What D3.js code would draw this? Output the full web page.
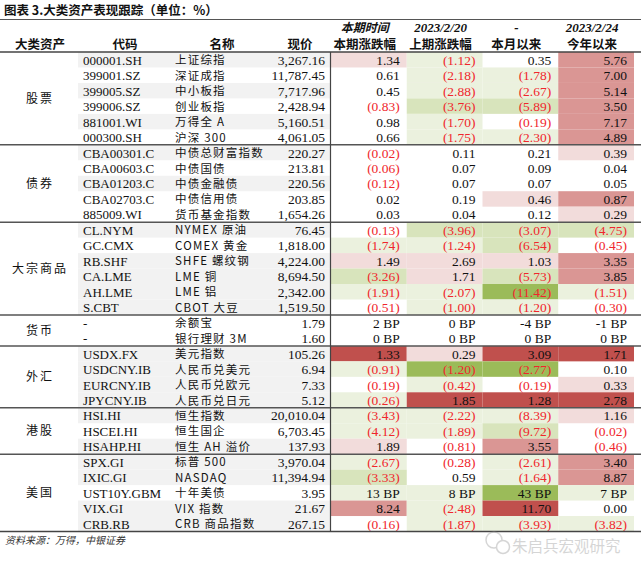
<!DOCTYPE html>
<html><head><meta charset="utf-8">
<script src="https://cdn.jsdelivr.net/npm/d3@7"></script>
<style>body{margin:0;background:#fff}svg{display:block}</style>
</head><body>
<svg id="c" width="641" height="561"></svg>
<script>
const groups = ["股票","债券","大宗商品","货币","外汇","港股","美国"];
const groupSizes = [6,5,6,2,4,3,5];
const codes = ["000001.SH","399001.SZ","399005.SZ","399006.SZ","881001.WI","000300.SH","CBA00301.C","CBA00603.C","CBA01203.C","CBA02703.C","885009.WI","CL.NYM","GC.CMX","RB.SHF","CA.LME","AH.LME","S.CBT","-","-","USDX.FX","USDCNY.IB","EURCNY.IB","JPYCNY.IB","HSI.HI","HSCEI.HI","HSAHP.HI","SPX.GI","IXIC.GI","UST10Y.GBM","VIX.GI","CRB.RB"];
const names = ["上证综指","深证成指","中小板指","创业板指","万得全 A","沪深 300","中债总财富指数","中债国债","中债金融债","中债信用债","货币基金指数","NYMEX 原油","COMEX 黄金","SHFE 螺纹钢","LME 铜","LME 铝","CBOT 大豆","余额宝","银行理财 3M","美元指数","人民币兑美元","人民币兑欧元","人民币兑日元","恒生指数","恒生国企","恒生 AH 溢价","标普 500","NASDAQ","十年美债","VIX 指数","CRB 商品指数"];
const prices = [3267.16,11787.45,7717.96,2428.94,5160.51,4061.05,220.27,213.81,220.56,203.85,1654.26,76.45,1818.00,4224.00,8694.50,2342.00,1519.50,1.79,1.60,105.26,6.94,7.33,5.12,20010.04,6703.45,137.93,3970.04,11394.94,3.95,21.67,267.15];
const bpRows = ["余额宝","银行理财 3M","十年美债"];
const colKeys = ["本期涨跌幅","上期涨跌幅","本月以来","今年以来"];
const colTop = ["本期时间","2023/2/20","-","2023/2/24"];
const chgWeek  = [1.34,0.61,0.45,-0.83,0.98,0.66,-0.02,-0.06,-0.12,0.02,0.03,-0.13,-1.74,1.49,-3.26,-1.91,-0.51,2,0,1.33,-0.91,-0.19,-0.26,-3.43,-4.12,1.89,-2.67,-3.33,13,8.24,-0.16];
const chgPrev  = [-1.12,-2.18,-2.88,-3.76,-1.70,-1.75,0.11,0.07,0.07,0.19,0.04,-3.96,-1.24,2.69,1.71,-2.07,-1.00,0,0,0.29,-1.20,-0.42,1.85,-2.22,-1.89,-0.81,-0.28,0.59,8,-2.48,-1.87];
const chgMonth = [0.35,-1.78,-2.67,-5.89,-0.19,-2.30,0.21,0.09,0.07,0.46,0.12,-3.07,-6.54,1.03,-5.73,-11.42,-1.20,-4,0,3.09,-2.77,-0.19,1.28,-8.39,-9.72,3.55,-2.61,-1.64,43,11.70,-3.93];
const chgYear  = [5.76,7.00,5.14,3.50,7.17,4.89,0.39,0.04,0.05,0.87,0.29,-4.75,-0.45,3.35,3.85,-1.51,-0.30,-1,0,1.71,0.10,0.33,2.78,1.16,-0.02,-0.46,3.40,8.87,7,0.00,-3.82];
// heat levels: 3 dark red .. -3 dark green, 0 none
const lvWeek  = [1,0,0,0,0,0, 0,0,0,0,0, 0,-1,1,-2,-1,0, 0,0, 3,-1,0,-1, -1,-1,1, -1,-2,-1,2,0];
const lvPrev  = [-1,-1,-1,-2,-1,-1, 0,0,0,0,0, -2,-1,1,1,-1,-1, 0,0, 1,-3,-1,3, -1,-1,0, 0,0,-1,-1,-1];
const lvMonth = [0,-1,-1,-2,0,-1, 0,0,0,1,0, -2,-2,1,-2,-3,-1, 0,0, 3,-3,0,3, -1,-2,2, -1,-1,-3,3,-1];
const lvYear  = [2,2,2,2,2,2, 1,0,0,2,1, -2,0,2,2,-1,0, 0,0, 3,0,1,3, 1,0,0, 2,2,-1,0,-1];
const codeShade = [1,0,1,0,1,0, 1,0,1,0,0, 1,0,1,1,1,1, 0,0, 1,1,1,1, 1,0,1, 1,1,0,1,1];

const svg = d3.select("#c");
const serif = "'Liberation Serif','Times New Roman',serif";
const cjk = "'Noto Sans CJK SC','Noto Sans',sans-serif";
const n = codes.length;
const y = d3.scaleBand().domain(d3.range(n)).range([52, 531.5]);
const x = d3.scaleBand().domain(colKeys).range([331, 634]);
const heat = d3.scaleOrdinal().domain([3,2,1,-1,-2,-3])
  .range(["#c0504d","#da9694","#f2dcdb","#ebf1de","#d8e4bc","#9bbb59"]);
const cols = [chgWeek, chgPrev, chgMonth, chgYear];
const lvs = [lvWeek, lvPrev, lvMonth, lvYear];
const fmt2 = d3.format(",.2f");
const fmtv = (v, bp) => bp ? (v + " BP") : (v < 0 ? "(" + d3.format(".2f")(-v) + ")" : d3.format(".2f")(v));

// title
svg.append("text").attr("x",4).attr("y",15).attr("font-family",cjk).attr("font-weight",700)
  .attr("font-size",12.5).attr("fill","#111").text("图表 3.大类资产表现跟踪（单位：%）");
svg.append("line").attr("x1",0).attr("x2",641).attr("y1",19.5).attr("y2",19.5).attr("stroke","#555").attr("stroke-width",1.2);

// code area shading
svg.append("g").selectAll("rect").data(d3.range(n).filter(i=>codeShade[i])).join("rect")
  .attr("x",78).attr("width",252).attr("y",i=>y(i)).attr("height",y.bandwidth()).attr("fill","#f2f2f2");

// heat cells
cols.forEach((arr, c) => {
  svg.append("g").selectAll("rect").data(d3.range(n).filter(i=>lvs[c][i]!==0)).join("rect")
    .attr("x", x(colKeys[c])).attr("width", x.bandwidth()).attr("y", i=>y(i)).attr("height", y.bandwidth())
    .attr("fill", i=>heat(lvs[c][i]));
});

// headers
const hdr = svg.append("g").attr("font-family",cjk).attr("font-weight",700).attr("font-size",12.5).attr("fill","#111").attr("text-anchor","middle");
[["大类资产",40],["代码",125],["名称",222],["现价",300]].forEach(([t,cx])=>hdr.append("text").attr("x",cx).attr("y",48.5).text(t));
colKeys.forEach((k,c)=>{
  const cx = x(k)+x.bandwidth()/2 - 4;
  hdr.append("text").attr("x",cx).attr("y",48.5).text(k);
  hdr.append("text").attr("x",cx).attr("y",32).attr("font-style","italic")
    .attr("font-family", c===0 ? cjk : serif).attr("font-size", c===0?12:13).text(colTop[c]);
});

// rows
const rowsG = svg.append("g");
d3.range(n).forEach(i=>{
  const cy = y(i) + y.bandwidth()/2 + 5;
  rowsG.append("text").attr("x",83).attr("y",cy).attr("font-family",serif).attr("font-size",13).attr("fill","#111").text(codes[i]);
  rowsG.append("text").attr("x",175).attr("y",cy-0.5).attr("font-family",cjk).attr("font-size",11.5).attr("fill","#111")
    .attr("letter-spacing",1.2).text(names[i]);
  rowsG.append("text").attr("x",325).attr("y",cy).attr("text-anchor","end").attr("font-family",serif).attr("font-size",13.5).attr("fill","#111").text(fmt2(prices[i]));
  const bp = bpRows.includes(names[i]);
  cols.forEach((arr,c)=>{
    const v = arr[i];
    rowsG.append("text").attr("x", x(colKeys[c]) + x.bandwidth() - 7).attr("y",cy).attr("text-anchor","end")
      .attr("font-family",serif).attr("font-size",13.5)
      .attr("fill", (!bp && v<0) ? "#f0262c" : "#111").text(fmtv(v,bp));
  });
});

// group labels and separators
let start = 0;
groups.forEach((g,gi)=>{
  const end = start + groupSizes[gi];
  const top = y(start), bot = y(end-1)+y.bandwidth();
  svg.append("text").attr("x",40).attr("y",(top+bot)/2+4.5).attr("text-anchor","middle").attr("font-family",cjk)
    .attr("font-size",12).attr("letter-spacing",2).attr("fill","#111").text(g);
  if (gi>0) svg.append("line").attr("x1",0).attr("x2",641).attr("y1",top).attr("y2",top).attr("stroke","#555").attr("stroke-width",1.5);
  start = end;
});
svg.append("line").attr("x1",0).attr("x2",641).attr("y1",52).attr("y2",52).attr("stroke","#444").attr("stroke-width",1.5);
svg.append("line").attr("x1",0).attr("x2",641).attr("y1",531.5).attr("y2",531.5).attr("stroke","#444").attr("stroke-width",1.5);
svg.append("line").attr("x1",330.5).attr("x2",330.5).attr("y1",52).attr("y2",531.5).attr("stroke","#444").attr("stroke-width",1.2);

// footer
svg.append("text").attr("x",5).attr("y",544).attr("font-family",cjk).attr("font-style","italic").attr("font-size",10).attr("fill","#333").text("资料来源：万得，中银证券");
// watermark
const wm = svg.append("g").attr("opacity",0.4);
wm.append("circle").attr("cx",494).attr("cy",540).attr("r",8).attr("fill","none").attr("stroke","#999").attr("stroke-width",1.5);
wm.append("circle").attr("cx",503).attr("cy",547).attr("r",6.5).attr("fill","#fff").attr("stroke","#999").attr("stroke-width",1.5);
wm.append("text").attr("x",512).attr("y",552).attr("font-family",cjk).attr("font-size",15.5).attr("fill","#999").text("朱启兵宏观研究");
</script>
</body></html>
